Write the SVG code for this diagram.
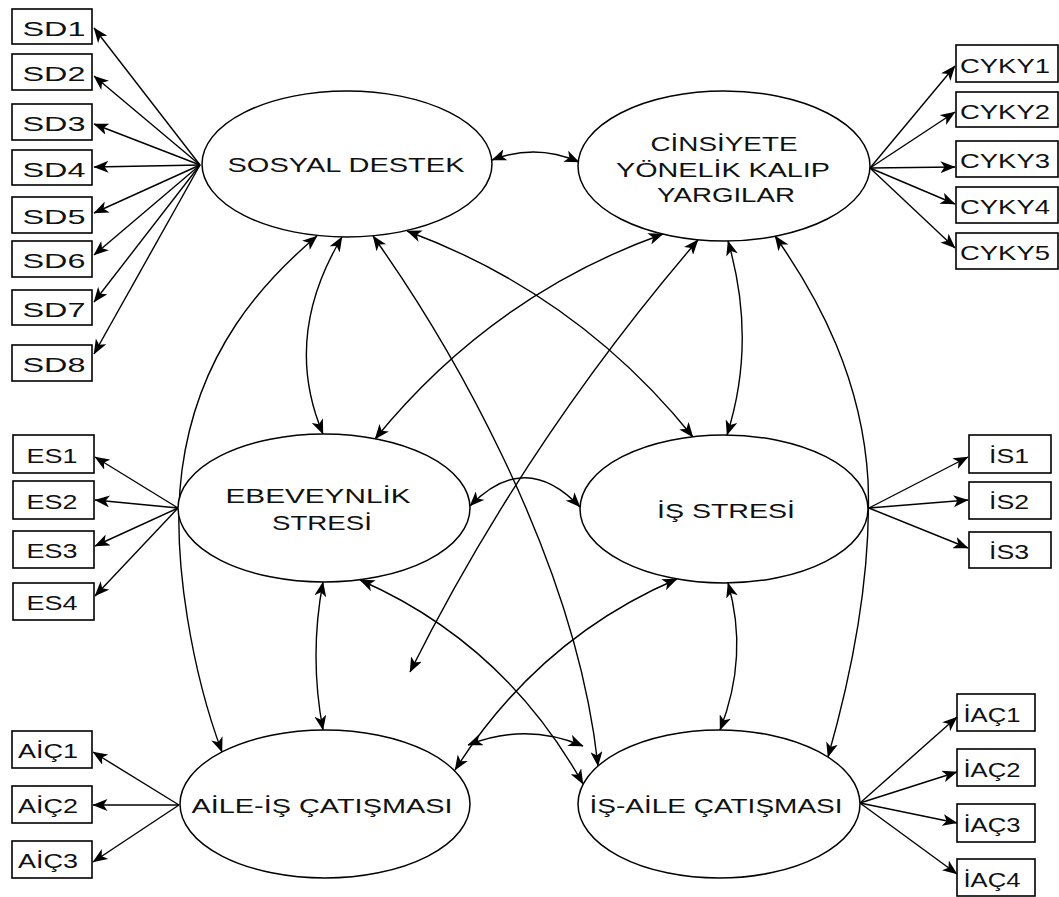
<svg xmlns="http://www.w3.org/2000/svg" width="1059" height="897" viewBox="0 0 1059 897">
<defs>
<marker id="ah" markerUnits="userSpaceOnUse" markerWidth="15" markerHeight="12" viewBox="0 0 15 12" refX="14.5" refY="6" orient="auto-start-reverse">
<path d="M0,0 L15,6 L0,12 L4,6 z" fill="#000"/>
</marker>
<style>
.box{fill:#fff;stroke:#000;stroke-width:1.6}
.lat{fill:#fff;stroke:#000;stroke-width:1.5}
.t{font-family:"Liberation Sans",Arial,sans-serif;font-size:21px;fill:#111;text-anchor:middle}
.ld{fill:none;stroke:#000;stroke-width:1.4;marker-end:url(#ah)}
.cv{fill:none;stroke:#000;stroke-width:1.4;marker-start:url(#ah);marker-end:url(#ah)}
</style>
</defs>
<rect width="1059" height="897" fill="#fff"/>

<g id="connectors">
<path class="ld" d="M200,165 L94,28"/>
<path class="ld" d="M200,165 L94,76"/>
<path class="ld" d="M200,165 L94,124"/>
<path class="ld" d="M200,165 L94,167"/>
<path class="ld" d="M200,165 L94,213"/>
<path class="ld" d="M200,165 L94,255"/>
<path class="ld" d="M200,165 L94,302"/>
<path class="ld" d="M200,165 L94,354"/>
<path class="ld" d="M870,168 L955,66"/>
<path class="ld" d="M870,168 L955,112"/>
<path class="ld" d="M870,168 L955,167"/>
<path class="ld" d="M870,168 L955,204"/>
<path class="ld" d="M870,168 L955,248"/>
<path class="ld" d="M178,508 L95,457"/>
<path class="ld" d="M178,508 L95,500"/>
<path class="ld" d="M178,508 L95,546"/>
<path class="ld" d="M178,508 L95,596"/>
<path class="ld" d="M869,508 L968,457"/>
<path class="ld" d="M869,508 L968,500"/>
<path class="ld" d="M869,508 L968,548"/>
<path class="ld" d="M179,805 L93,752"/>
<path class="ld" d="M179,805 L93,805"/>
<path class="ld" d="M179,805 L93,862"/>
<path class="ld" d="M860,803 L957,717"/>
<path class="ld" d="M860,803 L957,772"/>
<path class="ld" d="M860,803 L957,823"/>
<path class="ld" d="M860,803 L957,874"/>
<path class="cv" d="M492,160 Q536,143 579,162"/>
<path class="cv" d="M342,237 Q282,337 323,434"/>
<path class="cv" d="M407,231 Q578,294 693,437"/>
<path class="cv" d="M663,234 Q492,295 375,439"/>
<path class="cv" d="M728,241 Q757,341 727,435"/>
<path class="cv" d="M317,236 C265,280 198,350 182,470 C170,560 195,680 222,752"/>
<path class="cv" d="M373,236 C440,330 575,550 598,766"/>
<path class="cv" d="M360,580 Q504,643 583,784"/>
<path class="cv" d="M677,579 Q539,638 455,770"/>
<path class="cv" d="M323,582 Q309,656 323,730"/>
<path class="cv" d="M728,583 Q749,656 720,730"/>
<path class="cv" d="M775,236 C820,300 862,380 868,480 C872,580 850,680 828,757"/>
<path class="cv" d="M468,745 Q526,722 583,746"/>
<path class="cv" d="M470,506 Q525,449 580,507"/>
<path class="cv" d="M698,240 Q526,440 410,672"/>
</g>

<g id="SD"><ellipse class="lat" cx="347" cy="164" rx="145" ry="73"/><text class="t" x="346" y="172" textLength="237" lengthAdjust="spacingAndGlyphs">SOSYAL DESTEK</text></g>
<g id="CYKY"><ellipse class="lat" cx="724" cy="166" rx="146" ry="75"/><text class="t" x="724" y="151" textLength="147" lengthAdjust="spacingAndGlyphs">CİNSİYETE</text><text class="t" x="723" y="177" textLength="214" lengthAdjust="spacingAndGlyphs">YÖNELİK KALIP</text><text class="t" x="726" y="202" textLength="138" lengthAdjust="spacingAndGlyphs">YARGILAR</text></g>
<g id="ES"><ellipse class="lat" cx="324" cy="508" rx="146" ry="74"/><text class="t" x="318" y="503" textLength="185" lengthAdjust="spacingAndGlyphs">EBEVEYNLİK</text><text class="t" x="322" y="530" textLength="100" lengthAdjust="spacingAndGlyphs">STRESİ</text></g>
<g id="IS"><ellipse class="lat" cx="724" cy="509" rx="144" ry="74"/><text class="t" x="726" y="518" textLength="138" lengthAdjust="spacingAndGlyphs">İŞ STRESİ</text></g>
<g id="AIC"><ellipse class="lat" cx="325" cy="804" rx="145" ry="74"/><text class="t" x="322" y="813" textLength="261" lengthAdjust="spacingAndGlyphs">AİLE-İŞ ÇATIŞMASI</text></g>
<g id="IAC"><ellipse class="lat" cx="719" cy="804" rx="141" ry="74"/><text class="t" x="716" y="813" textLength="253" lengthAdjust="spacingAndGlyphs">İŞ-AİLE ÇATIŞMASI</text></g>

<g id="SD1"><rect class="box" x="12" y="9" width="80" height="35"/><text class="t" x="54" y="36" textLength="63" lengthAdjust="spacingAndGlyphs">SD1</text></g>
<g id="SD2"><rect class="box" x="12" y="54" width="80" height="36"/><text class="t" x="54" y="81" textLength="63" lengthAdjust="spacingAndGlyphs">SD2</text></g>
<g id="SD3"><rect class="box" x="12" y="104" width="80" height="36"/><text class="t" x="54" y="131" textLength="63" lengthAdjust="spacingAndGlyphs">SD3</text></g>
<g id="SD4"><rect class="box" x="12" y="150" width="80" height="35"/><text class="t" x="54" y="177" textLength="63" lengthAdjust="spacingAndGlyphs">SD4</text></g>
<g id="SD5"><rect class="box" x="12" y="197" width="80" height="36"/><text class="t" x="54" y="224" textLength="63" lengthAdjust="spacingAndGlyphs">SD5</text></g>
<g id="SD6"><rect class="box" x="12" y="241" width="80" height="36"/><text class="t" x="54" y="268" textLength="63" lengthAdjust="spacingAndGlyphs">SD6</text></g>
<g id="SD7"><rect class="box" x="12" y="290" width="80" height="35"/><text class="t" x="54" y="317" textLength="63" lengthAdjust="spacingAndGlyphs">SD7</text></g>
<g id="SD8"><rect class="box" x="12" y="345" width="80" height="36"/><text class="t" x="54" y="372" textLength="63" lengthAdjust="spacingAndGlyphs">SD8</text></g>

<g id="CYKY1"><rect class="box" x="956" y="45" width="102" height="37"/><text class="t" x="1005" y="73" textLength="90" lengthAdjust="spacingAndGlyphs">CYKY1</text></g>
<g id="CYKY2"><rect class="box" x="956" y="92" width="102" height="35"/><text class="t" x="1005" y="119" textLength="90" lengthAdjust="spacingAndGlyphs">CYKY2</text></g>
<g id="CYKY3"><rect class="box" x="956" y="141" width="102" height="36"/><text class="t" x="1005" y="168" textLength="90" lengthAdjust="spacingAndGlyphs">CYKY3</text></g>
<g id="CYKY4"><rect class="box" x="956" y="187" width="102" height="36"/><text class="t" x="1005" y="214" textLength="90" lengthAdjust="spacingAndGlyphs">CYKY4</text></g>
<g id="CYKY5"><rect class="box" x="956" y="233" width="102" height="36"/><text class="t" x="1005" y="260" textLength="90" lengthAdjust="spacingAndGlyphs">CYKY5</text></g>

<g id="ES1"><rect class="box" x="13" y="435" width="81" height="38"/><text class="t" x="52" y="463" textLength="51" lengthAdjust="spacingAndGlyphs">ES1</text></g>
<g id="ES2"><rect class="box" x="13" y="481" width="81" height="38"/><text class="t" x="52" y="509" textLength="51" lengthAdjust="spacingAndGlyphs">ES2</text></g>
<g id="ES3"><rect class="box" x="13" y="531" width="81" height="37"/><text class="t" x="52" y="558" textLength="51" lengthAdjust="spacingAndGlyphs">ES3</text></g>
<g id="ES4"><rect class="box" x="13" y="583" width="81" height="37"/><text class="t" x="52" y="610" textLength="51" lengthAdjust="spacingAndGlyphs">ES4</text></g>

<g id="IS1"><rect class="box" x="969" y="435" width="82" height="38"/><text class="t" x="1009" y="463" textLength="40" lengthAdjust="spacingAndGlyphs">İS1</text></g>
<g id="IS2"><rect class="box" x="969" y="482" width="82" height="37"/><text class="t" x="1009" y="509" textLength="40" lengthAdjust="spacingAndGlyphs">İS2</text></g>
<g id="IS3"><rect class="box" x="969" y="532" width="82" height="36"/><text class="t" x="1009" y="559" textLength="40" lengthAdjust="spacingAndGlyphs">İS3</text></g>

<g id="AIC1"><rect class="box" x="12" y="731" width="80" height="37"/><text class="t" x="48" y="758" textLength="60" lengthAdjust="spacingAndGlyphs">AİÇ1</text></g>
<g id="AIC2"><rect class="box" x="12" y="786" width="80" height="37"/><text class="t" x="48" y="813" textLength="60" lengthAdjust="spacingAndGlyphs">AİÇ2</text></g>
<g id="AIC3"><rect class="box" x="12" y="841" width="80" height="37"/><text class="t" x="48" y="868" textLength="60" lengthAdjust="spacingAndGlyphs">AİÇ3</text></g>

<g id="IAC1"><rect class="box" x="957" y="694" width="78" height="37"/><text class="t" x="992" y="722" textLength="57" lengthAdjust="spacingAndGlyphs">İAÇ1</text></g>
<g id="IAC2"><rect class="box" x="957" y="749" width="78" height="37"/><text class="t" x="992" y="777" textLength="57" lengthAdjust="spacingAndGlyphs">İAÇ2</text></g>
<g id="IAC3"><rect class="box" x="957" y="804" width="78" height="38"/><text class="t" x="992" y="832" textLength="57" lengthAdjust="spacingAndGlyphs">İAÇ3</text></g>
<g id="IAC4"><rect class="box" x="957" y="859" width="78" height="37"/><text class="t" x="992" y="887" textLength="57" lengthAdjust="spacingAndGlyphs">İAÇ4</text></g>
</svg>
